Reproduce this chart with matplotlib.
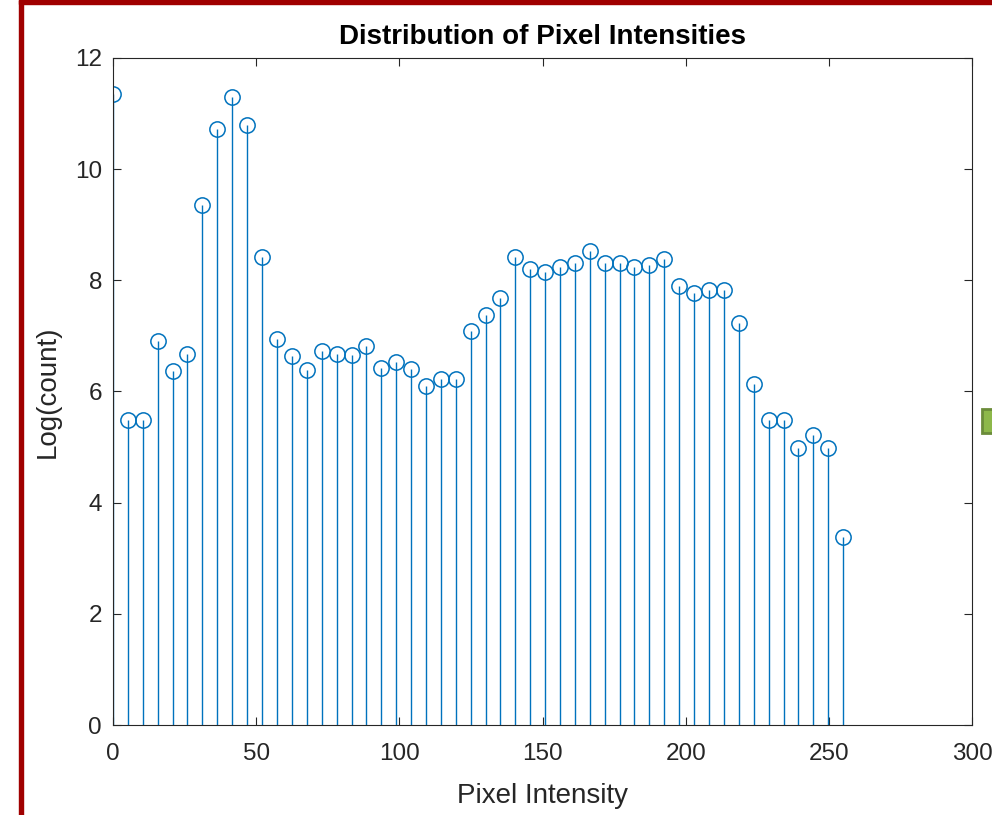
import matplotlib
matplotlib.use("Agg")
import matplotlib.pyplot as plt
from matplotlib.patches import Rectangle

# bin centres (50 bins over 0..255) and log counts
pixel_intensity = [0.0, 5.2, 10.4, 15.6, 20.8, 26.0, 31.2, 36.4, 41.6, 46.8,
                   52.0, 57.2, 62.4, 67.7, 72.9, 78.1, 83.3, 88.5, 93.7, 98.9,
                   104.1, 109.3, 114.5, 119.7, 124.9, 130.1, 135.3, 140.5, 145.7, 150.9,
                   156.1, 161.3, 166.5, 171.7, 176.9, 182.1, 187.3, 192.6, 197.8, 203.0,
                   208.2, 213.4, 218.6, 223.8, 229.0, 234.2, 239.4, 244.6, 249.8, 255.0]
log_count = [11.35, 5.48, 5.48, 6.91, 6.36, 6.68, 9.36, 10.73, 11.29, 10.79,
             8.42, 6.95, 6.64, 6.39, 6.72, 6.68, 6.66, 6.82, 6.43, 6.53,
             6.40, 6.10, 6.22, 6.22, 7.09, 7.37, 7.69, 8.42, 8.21, 8.15,
             8.24, 8.32, 8.53, 8.32, 8.32, 8.24, 8.27, 8.39, 7.90, 7.78,
             7.82, 7.82, 7.24, 6.14, 5.48, 5.48, 4.99, 5.22, 4.99, 3.38]

plt.rcParams['font.family'] = ['Liberation Sans', 'DejaVu Sans']
blue = '#0072BD'
axis_col = '#262626'

fig = plt.figure(figsize=(9.92, 8.15), dpi=100)
ax = fig.add_axes([113/992, 1 - 725/815, 859/992, 667/815])

markerline, stemlines, baseline = ax.stem(pixel_intensity, log_count, basefmt=' ')
plt.setp(stemlines, color=blue, linewidth=1.0)
plt.setp(markerline, color=blue, marker='o', markersize=11, markerfacecolor='none',
         markeredgewidth=1.1)

ax.set_xlim(0, 300)
ax.set_ylim(0, 12)
ax.set_xticks([0, 50, 100, 150, 200, 250, 300])
ax.set_yticks([0, 2, 4, 6, 8, 10, 12])

for s in ax.spines.values():
    s.set_color(axis_col)
    s.set_linewidth(0.8)
ax.tick_params(direction='in', length=6, width=0.8, colors=axis_col,
               labelsize=17.5, top=True, right=True)
ax.tick_params(axis='x', pad=13)
ax.tick_params(axis='y', pad=8)

ax.set_xlabel("Pixel Intensity", fontsize=20, color=axis_col, labelpad=13)
ax.set_ylabel("Log(count)", fontsize=20, color=axis_col, labelpad=10)
ax.set_title("Distribution of Pixel Intensities", fontsize=20, fontweight='bold', pad=10)

# screenshot frame: dark red border on left and top, plus a clipped green marker on the right
fig.patches.append(Rectangle((19/992, 0), 4/992, 1, transform=fig.transFigure,
                             color='#A00000', zorder=10))
fig.patches.append(Rectangle((19/992, 1 - 4/815), 1, 4/815, transform=fig.transFigure,
                             color='#A00000', zorder=10))
fig.patches.append(Rectangle((982/992, 1 - 433/815), 12/992, 24/815, transform=fig.transFigure,
                             facecolor='#8DB84A', edgecolor='#6B8C3A', linewidth=2, zorder=10))

fig.savefig("out.png", dpi=100)
print("Saved plot to out.png")
